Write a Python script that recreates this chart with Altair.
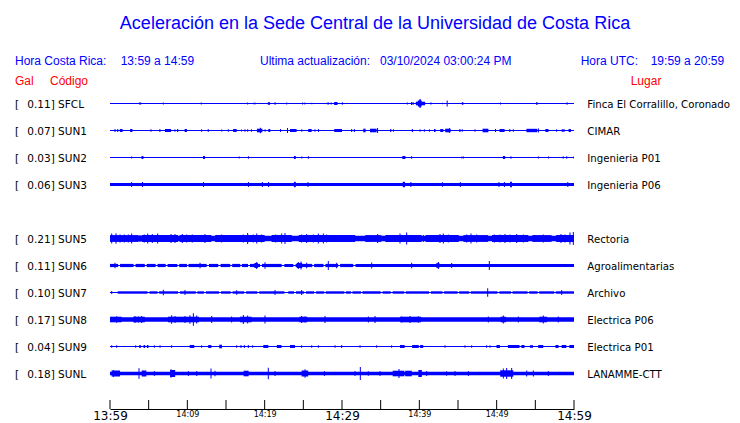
import altair as alt
import pandas as pd

# ---------------- data ----------------
codes = ["SFCL", "SUN1", "SUN2", "SUN3", "SUN5", "SUN6", "SUN7", "SUN8", "SUN9", "SUNL"]
row_slots = [0, 1, 2, 3, 5, 6, 7, 8, 9, 10]
pga_gal = ["0.11", "0.07", "0.03", "0.06", "0.21", "0.11", "0.10", "0.17", "0.04", "0.18"]
places = ["Finca El Corralillo, Coronado", "CIMAR", "Ingenieria P01", "Ingenieria P06",
          "Rectoria", "Agroalimentarias", "Archivo", "Electrica P06", "Electrica P01",
          "LANAMME-CTT"]

# half-thickness of the quiet trace (display units)
base_amp = [0.5, 0.5, 0.5, 1.5, 2.7, 0.5, 0.5, 2.2, 0.5, 1.7]

# traces whose band is interrupted by short quiet gaps (minutes)
band_amp = {"SUN6": 1.6, "SUN7": 1.2}
band_gaps = {
    "SUN6": [(1.05, 1.3), (3.05, 3.3), (4.5, 4.75), (5.9, 6.15), (7.2, 7.45), (8.7, 8.95),
             (9.95, 10.15), (12.5, 12.8), (14.0, 14.3), (15.55, 15.8), (16.85, 17.05),
             (17.85, 18.1), (19.4, 19.65), (22.2, 22.55), (23.7, 24.0), (26.15, 26.4),
             (27.6, 27.85), (29.5, 29.75), (31.45, 31.75)],
    "SUN7": [(0.0, 1.0), (4.85, 5.1), (6.15, 6.35), (8.8, 9.05), (11.1, 11.3), (12.15, 12.4),
             (14.1, 14.35), (15.6, 15.85), (17.35, 17.6), (19.05, 19.3), (22.55, 23.05),
             (23.8, 24.05), (25.1, 25.35), (26.4, 26.65), (27.7, 27.9), (30.3, 30.5),
             (31.15, 31.35), (32.45, 32.65), (35.0, 35.25), (36.3, 36.55), (38.05, 38.25),
             (41.25, 41.5), (43.0, 43.2), (44.95, 45.15), (46.45, 46.65), (50.1, 50.35),
             (51.85, 52.05), (54.0, 54.2), (55.3, 55.5), (57.45, 57.65)],
}

# bursts / spikes: (minute after 13:59, half amplitude, duration in minutes)
events = {
    "SFCL": [(3.9, 1.0, 0.3), (6.9, 0.9, 0.13), (11.8, 0.9, 0.13), (17.8, 1.0, 0.13),
             (18.7, 0.8, 0.3), (20.55, 1.3, 0.3), (21.35, 1.3, 0.15), (22.85, 1.0, 0.13),
             (24.9, 1.0, 0.13), (25.2, 0.9, 0.13), (26.1, 0.8, 0.13), (28.2, 1.2, 0.15),
             (28.6, 1.0, 0.15), (29.2, 1.5, 0.45), (30.05, 1.2, 0.13), (38.45, 1.0, 0.13),
             (39.0, 1.5, 0.15), (39.2, 1.2, 0.15), (40.15, 1.8, 1.2), (40.05, 3.0, 0.5),
             (40.1, 4.3, 0.2), (41.5, 1.0, 0.15), (43.0, 0.8, 0.13), (43.6, 3.0, 0.13),
             (45.6, 1.3, 0.2), (50.5, 0.9, 0.13), (55.2, 1.3, 0.2), (59.1, 1.3, 0.13)],
    "SUN1": [(0.65, 1.5, 0.13), (1.0, 1.5, 0.13), (1.45, 1.5, 0.35), (2.75, 1.5, 0.3),
             (5.3, 1.2, 0.13), (6.45, 1.5, 0.13), (7.5, 1.5, 0.8), (8.4, 1.2, 0.13),
             (8.75, 1.5, 0.15), (9.8, 1.5, 0.3), (11.85, 1.2, 0.13), (12.7, 1.5, 0.13),
             (14.45, 1.0, 0.13), (15.3, 1.2, 0.13), (16.15, 1.5, 0.45), (17.0, 1.0, 0.13),
             (17.45, 1.2, 0.13), (17.8, 1.2, 0.13), (18.3, 1.2, 0.13), (19.35, 1.8, 0.7),
             (19.45, 2.8, 0.13), (20.05, 1.2, 0.13), (20.6, 1.5, 0.25), (22.05, 1.5, 0.13),
             (22.95, 2.5, 0.13), (23.7, 1.5, 0.85), (24.8, 1.2, 0.13), (25.85, 1.5, 0.45),
             (26.5, 1.2, 0.13), (26.95, 1.5, 0.13), (29.5, 1.5, 1.0), (31.25, 1.5, 0.13),
             (31.6, 1.5, 0.13), (32.9, 1.8, 0.3), (34.05, 1.8, 0.85), (34.6, 2.5, 0.13),
             (36.3, 1.5, 0.15), (36.65, 1.2, 0.13), (39.1, 1.5, 0.15), (40.1, 1.2, 0.13),
             (40.65, 1.2, 0.13), (41.3, 1.2, 0.13), (42.0, 1.5, 0.2), (42.9, 1.5, 0.4),
             (43.7, 1.8, 0.7), (43.9, 2.3, 0.13), (45.25, 1.5, 0.15), (45.55, 1.2, 0.13),
             (47.2, 1.2, 0.13), (48.55, 1.8, 0.75), (49.85, 1.5, 0.13), (50.7, 1.5, 0.65),
             (51.7, 1.5, 0.13), (52.15, 1.2, 0.13), (54.55, 1.7, 1.4), (55.4, 2.0, 0.13),
             (56.5, 1.5, 0.4), (57.75, 1.2, 0.13), (58.6, 1.2, 0.4), (59.45, 1.5, 0.3)],
    "SUN2": [(2.8, 1.0, 0.13), (4.2, 1.5, 0.25), (12.15, 1.5, 0.25), (16.7, 0.9, 0.13),
             (17.9, 1.3, 0.13), (23.9, 1.5, 0.25), (24.8, 1.0, 0.13), (25.65, 1.3, 0.13),
             (38.0, 1.5, 0.4), (39.0, 1.3, 0.13), (45.5, 1.0, 0.13), (45.7, 1.0, 0.13),
             (50.95, 1.5, 0.3), (51.85, 1.3, 0.13), (55.4, 0.9, 0.13), (56.7, 0.9, 0.13),
             (58.6, 1.3, 0.13), (59.05, 1.3, 0.13), (59.95, 1.0, 0.1)],
    "SUN3": [(2.8, 2.5, 0.13), (4.2, 2.5, 0.13), (12.1, 2.5, 0.13), (17.9, 2.5, 0.13),
             (19.7, 2.5, 0.13), (20.5, 2.5, 0.13), (23.9, 2.7, 0.25), (25.6, 2.5, 0.13),
             (38.0, 2.7, 0.3), (38.9, 2.5, 0.13), (43.0, 2.3, 0.13), (45.3, 2.5, 0.13),
             (50.3, 2.5, 0.13), (51.0, 2.5, 0.13), (51.85, 2.7, 0.25), (59.2, 2.5, 0.13)],
    "SUN5": [(1.85, 3.4, 3.7), (6.45, 3.4, 4.7), (11.05, 3.4, 4.1), (16.8, 3.4, 6.4),
             (22.2, 3.4, 2.6), (28.05, 3.4, 7.3), (34.05, 3.4, 2.1), (37.95, 3.4, 4.7),
             (42.95, 3.4, 4.3), (47.3, 3.4, 3.2), (51.75, 3.4, 4.7), (55.85, 3.4, 2.5),
             (58.85, 3.4, 2.3),
             (0.22, 5.0, 0.13), (0.78, 5.3, 0.13), (1.29, 4.0, 0.13), (1.85, 4.0, 0.13),
             (2.37, 4.0, 0.13), (2.8, 5.0, 0.13), (3.88, 3.5, 0.13), (4.44, 4.0, 0.13),
             (4.87, 5.0, 0.13), (5.47, 4.5, 0.13), (6.16, 5.0, 0.13), (6.68, 3.5, 0.13),
             (7.89, 4.5, 0.13), (8.41, 4.5, 0.13), (9.35, 4.5, 0.13), (9.91, 4.0, 0.13),
             (10.65, 4.0, 0.13), (11.42, 3.5, 0.13), (12.28, 4.5, 0.13), (12.8, 3.5, 0.13),
             (13.79, 3.5, 0.13), (14.44, 4.0, 0.13), (15.39, 3.5, 0.13), (16.38, 3.5, 0.13),
             (17.24, 4.0, 0.13), (17.8, 5.5, 0.13), (18.53, 4.0, 0.13), (18.97, 5.0, 0.13),
             (19.61, 4.0, 0.13), (21.42, 4.0, 0.13), (22.2, 5.0, 0.13), (22.63, 5.5, 0.13),
             (24.78, 4.0, 0.13), (25.43, 4.5, 0.13), (26.29, 4.0, 0.13), (26.94, 5.0, 0.13),
             (27.59, 5.0, 0.13), (28.02, 4.0, 0.13), (29.09, 3.5, 0.13), (30.17, 3.5, 0.13),
             (31.03, 3.5, 0.13), (33.41, 3.5, 0.13), (34.61, 4.5, 0.13), (36.21, 3.5, 0.13),
             (36.85, 3.5, 0.13), (37.5, 5.0, 0.13), (38.36, 6.0, 0.13), (40.52, 3.5, 0.13),
             (41.38, 3.5, 0.13), (42.67, 4.5, 0.13), (43.1, 5.0, 0.13), (43.75, 4.0, 0.13),
             (44.4, 3.5, 0.13), (46.12, 4.0, 0.13), (46.68, 5.0, 0.13), (47.41, 4.0, 0.13),
             (48.49, 3.5, 0.13), (49.7, 4.0, 0.13), (50.43, 4.0, 0.13), (51.08, 4.5, 0.13),
             (51.72, 4.0, 0.13), (52.59, 4.5, 0.13), (53.45, 4.0, 0.13), (54.96, 3.5, 0.13),
             (56.03, 4.0, 0.13), (58.32, 4.5, 0.13), (58.84, 4.0, 0.13), (59.48, 6.0, 0.13),
             (59.91, 6.5, 0.13)],
    "SUN6": [(0.65, 2.7, 0.13), (11.64, 2.7, 0.13), (18.9, 2.5, 0.45), (18.97, 3.5, 0.13),
             (20.04, 3.2, 0.13), (24.5, 2.5, 0.7), (24.35, 3.5, 0.13), (24.7, 4.0, 0.13),
             (25.43, 2.7, 0.13), (28.23, 4.5, 0.13), (29.31, 2.7, 0.13), (33.84, 3.0, 0.13),
             (39.01, 2.7, 0.13), (42.4, 2.4, 0.4), (42.46, 3.5, 0.13), (44.18, 2.5, 0.13),
             (49.05, 4.5, 0.13)],
    "SUN7": [(0.22, 1.5, 0.13), (6.9, 2.7, 0.13), (9.7, 2.5, 0.13), (16.38, 2.2, 0.13),
             (21.34, 2.5, 0.13), (24.78, 2.5, 0.13), (48.84, 4.2, 0.13), (58.41, 2.5, 0.13)],
    "SUN8": [(0.75, 2.8, 1.5), (3.75, 2.8, 1.5), (9.5, 2.8, 4.0), (17.55, 2.8, 1.5),
             (25.0, 2.8, 1.0), (38.85, 2.8, 2.7), (50.85, 2.8, 0.7), (56.0, 2.8, 1.0),
             (0.86, 3.2, 0.13), (3.23, 3.5, 0.13), (3.66, 3.0, 0.13), (4.09, 3.5, 0.13),
             (7.97, 4.2, 0.13), (8.41, 3.5, 0.13), (9.7, 3.5, 0.13), (10.34, 4.2, 0.13),
             (10.78, 6.3, 0.13), (11.21, 4.0, 0.13), (13.15, 3.5, 0.13), (15.73, 3.0, 0.13),
             (17.24, 4.5, 0.13), (17.8, 4.0, 0.13), (20.04, 4.0, 0.13), (24.78, 3.5, 0.13),
             (25.22, 3.0, 0.13), (27.8, 3.5, 0.13), (33.41, 3.0, 0.13), (34.27, 3.5, 0.13),
             (37.72, 3.0, 0.13), (38.79, 3.5, 0.13), (39.87, 3.2, 0.13), (48.92, 3.0, 0.13),
             (50.86, 4.0, 0.13), (52.8, 3.0, 0.13), (56.03, 4.0, 0.13), (57.97, 3.0, 0.13)],
    "SUN9": [(0.22, 1.3, 0.13), (0.86, 1.3, 0.13), (3.32, 1.3, 0.13), (3.88, 1.5, 0.2),
             (4.44, 1.5, 0.2), (4.87, 1.5, 0.2), (5.73, 1.3, 0.13), (6.47, 1.3, 0.13),
             (7.97, 1.3, 0.13), (10.6, 1.5, 0.6), (11.85, 1.3, 0.13), (12.9, 1.5, 0.4),
             (14.3, 1.8, 0.35), (16.38, 1.3, 0.13), (16.94, 1.5, 0.13), (17.37, 1.5, 0.13),
             (17.89, 1.5, 0.13), (18.45, 1.3, 0.13), (20.15, 1.5, 0.65), (21.87, 1.5, 0.6),
             (23.6, 1.5, 0.65), (24.78, 1.3, 0.13), (26.08, 1.3, 0.13), (26.94, 1.3, 0.13),
             (29.1, 1.3, 0.13), (29.96, 1.5, 0.13), (32.33, 1.2, 0.13), (34.48, 1.2, 0.13),
             (36.42, 1.3, 0.13), (37.8, 1.5, 0.6), (39.5, 1.5, 0.85), (40.3, 1.5, 0.4),
             (43.32, 1.3, 0.13), (45.9, 1.2, 0.13), (46.77, 1.2, 0.13), (48.7, 1.3, 0.13),
             (49.14, 1.3, 0.13), (50.2, 1.5, 0.45), (52.2, 1.5, 1.5), (53.4, 1.5, 0.4),
             (54.5, 1.3, 0.4), (55.7, 1.5, 0.65), (57.8, 1.5, 0.4), (58.7, 1.5, 0.6),
             (59.7, 1.5, 0.6)],
    "SUNL": [(0.75, 3.0, 1.1), (0.43, 3.5, 0.13), (3.75, 5.2, 0.13), (4.4, 3.0, 0.6),
             (5.73, 2.5, 0.13), (8.1, 3.5, 0.65), (7.89, 4.2, 0.13), (10.13, 2.5, 0.13),
             (11.21, 2.5, 0.13), (13.06, 5.0, 0.13), (13.58, 2.7, 0.13), (17.6, 2.8, 0.65),
             (20.47, 5.7, 0.13), (21.34, 2.5, 0.13), (25.2, 3.0, 0.85), (25.22, 4.2, 0.13),
             (27.72, 2.5, 0.13), (31.68, 2.5, 0.13), (32.37, 6.5, 0.13), (33.41, 2.2, 0.13),
             (34.91, 2.5, 0.13), (37.3, 2.8, 1.5), (37.37, 4.5, 0.13), (38.6, 2.8, 0.85),
             (40.1, 3.5, 0.45), (40.95, 2.5, 0.13), (43.53, 2.2, 0.13), (44.61, 2.5, 0.13),
             (46.34, 2.5, 0.13), (51.3, 3.2, 1.7), (50.86, 5.0, 0.13), (51.29, 5.5, 0.13),
             (51.94, 5.5, 0.13), (53.88, 3.0, 0.13), (54.74, 3.0, 0.13), (56.68, 2.5, 0.13)],
}

tick_minutes = [0, 5, 10, 15, 20, 25, 30, 35, 40, 45, 50, 55, 60]
label_minutes = [0, 10, 20, 30, 40, 50, 60]
time_labels = ["13:59", "14:09", "14:19", "14:29", "14:39", "14:49", "14:59"]
big_label_minutes = [0, 30, 60]

title_text = "Aceleración en la Sede Central de la Universidad de Costa Rica"
header_texts = ["Hora Costa Rica:", "13:59 a 14:59", "Ultima actualización:",
                "03/10/2024 03:00:24 PM", "Hora UTC:", "19:59 a 20:59"]
column_texts = ["Gal", "Código", "Lugar"]

# ---------------- build tables ----------------
ROW_UNITS = 27.0  # display units per trace slot
W, H = 464, 321
T0, T1 = 0.0, 60.0

recs = []
def add(t0, t1, row, amp):
    recs.append({"t0": max(T0, t0), "t1": min(T1, t1),
                 "y0": row - amp / ROW_UNITS, "y1": row + amp / ROW_UNITS})

for code, row, a in zip(codes, row_slots, base_amp):
    add(T0, T1, row, a)
    if code in band_gaps:
        start = T0
        for g0, g1 in band_gaps[code]:
            if g0 > start:
                add(start, g0, row, band_amp[code])
            start = g1
        if start < T1:
            add(start, T1, row, band_amp[code])
    for t, amp, dur in events[code]:
        add(t - dur / 2, t + dur / 2, row, amp)

traces_df = pd.DataFrame(recs)
labels_df = pd.DataFrame({
    "row": row_slots,
    "left": [f"{g}] {c}" for g, c in zip(pga_gal, codes)],
    "place": places,
})
ticks_df = pd.DataFrame({"m": tick_minutes})

BLUE = "#0000ff"
xscale = alt.Scale(domain=[T0, T1], nice=False, zero=False)
yscale = alt.Scale(domain=[-15.5 / 27.0, (H - 15.5) / 27.0], reverse=True, nice=False, zero=False)

label_expr = "[" + ",".join(f"'{s}'" for s in time_labels) + "][round(datum.value/10)]"
big_test = " || ".join(f"datum.value == {m}" for m in big_label_minutes)

traces = alt.Chart(traces_df).mark_rect(color=BLUE, strokeWidth=0).encode(
    x=alt.X("t0:Q", scale=xscale,
            axis=alt.Axis(values=label_minutes, labelExpr=label_expr, ticks=False, tickSize=0,
                          grid=False, title=None, domainColor="black", domainWidth=1,
                          labelColor="black", labelFont="DejaVu Sans",
                          labelFontSize={"condition": {"test": big_test, "value": 12}, "value": 8},
                          labelBaseline="top", labelPadding=1.5, labelFlush=False,
                          labelOverlap=False, labelBound=False)),
    x2="t1:Q",
    y=alt.Y("y0:Q", scale=yscale, axis=None),
    y2="y1:Q",
)

ticks = alt.Chart(ticks_df).mark_rule(color="black", strokeWidth=1).encode(
    x=alt.X("m:Q", scale=xscale), y=alt.value(H), y2=alt.value(H - 9)
)

left_bracket = alt.Chart(labels_df).mark_text(
    align="left", baseline="alphabetic", dy=4, font="DejaVu Sans", fontSize=10.5, color="black"
).encode(x=alt.value(-95), y=alt.Y("row:Q", scale=yscale), text=alt.value("["))

left_text = alt.Chart(labels_df).mark_text(
    align="left", baseline="alphabetic", dy=4, font="DejaVu Sans", fontSize=10.5, color="black"
).encode(x=alt.value(-82.7), y=alt.Y("row:Q", scale=yscale), text="left:N")

right_text = alt.Chart(labels_df).mark_text(
    align="left", baseline="alphabetic", dy=4, font="DejaVu Sans", fontSize=10.2, color="black"
).encode(x=alt.value(477.3), y=alt.Y("row:Q", scale=yscale), text="place:N")


def txt(s, x, y, size, color, align="left"):
    return alt.Chart(pd.DataFrame({"s": [s]})).mark_text(
        align=align, baseline="alphabetic", font="Liberation Sans", fontSize=size, color=color
    ).encode(x=alt.value(x), y=alt.value(y), text="s:N")


header_x = [-95, 10.7, 150, 270, 470.7, 540.7]
column_x = [-95, -60, 520.7]

layers = [traces, ticks, left_bracket, left_text, right_text,
          txt(title_text, 265, -59, 18, BLUE, align="center")]
layers += [txt(s, x, -23, 12, BLUE) for s, x in zip(header_texts, header_x)]
layers += [txt(s, x, -3, 12, "#ff0000") for s, x in zip(column_texts, column_x)]

chart = alt.layer(*layers).properties(
    width=W, height=H,
    autosize=alt.AutoSizeParams(type="none"),
    padding={"left": 102, "top": 80, "right": 158, "bottom": 15},
    background="white",
).configure_view(stroke=None)

chart.save("out.html", embed_options={"renderer": "svg", "actions": False})
